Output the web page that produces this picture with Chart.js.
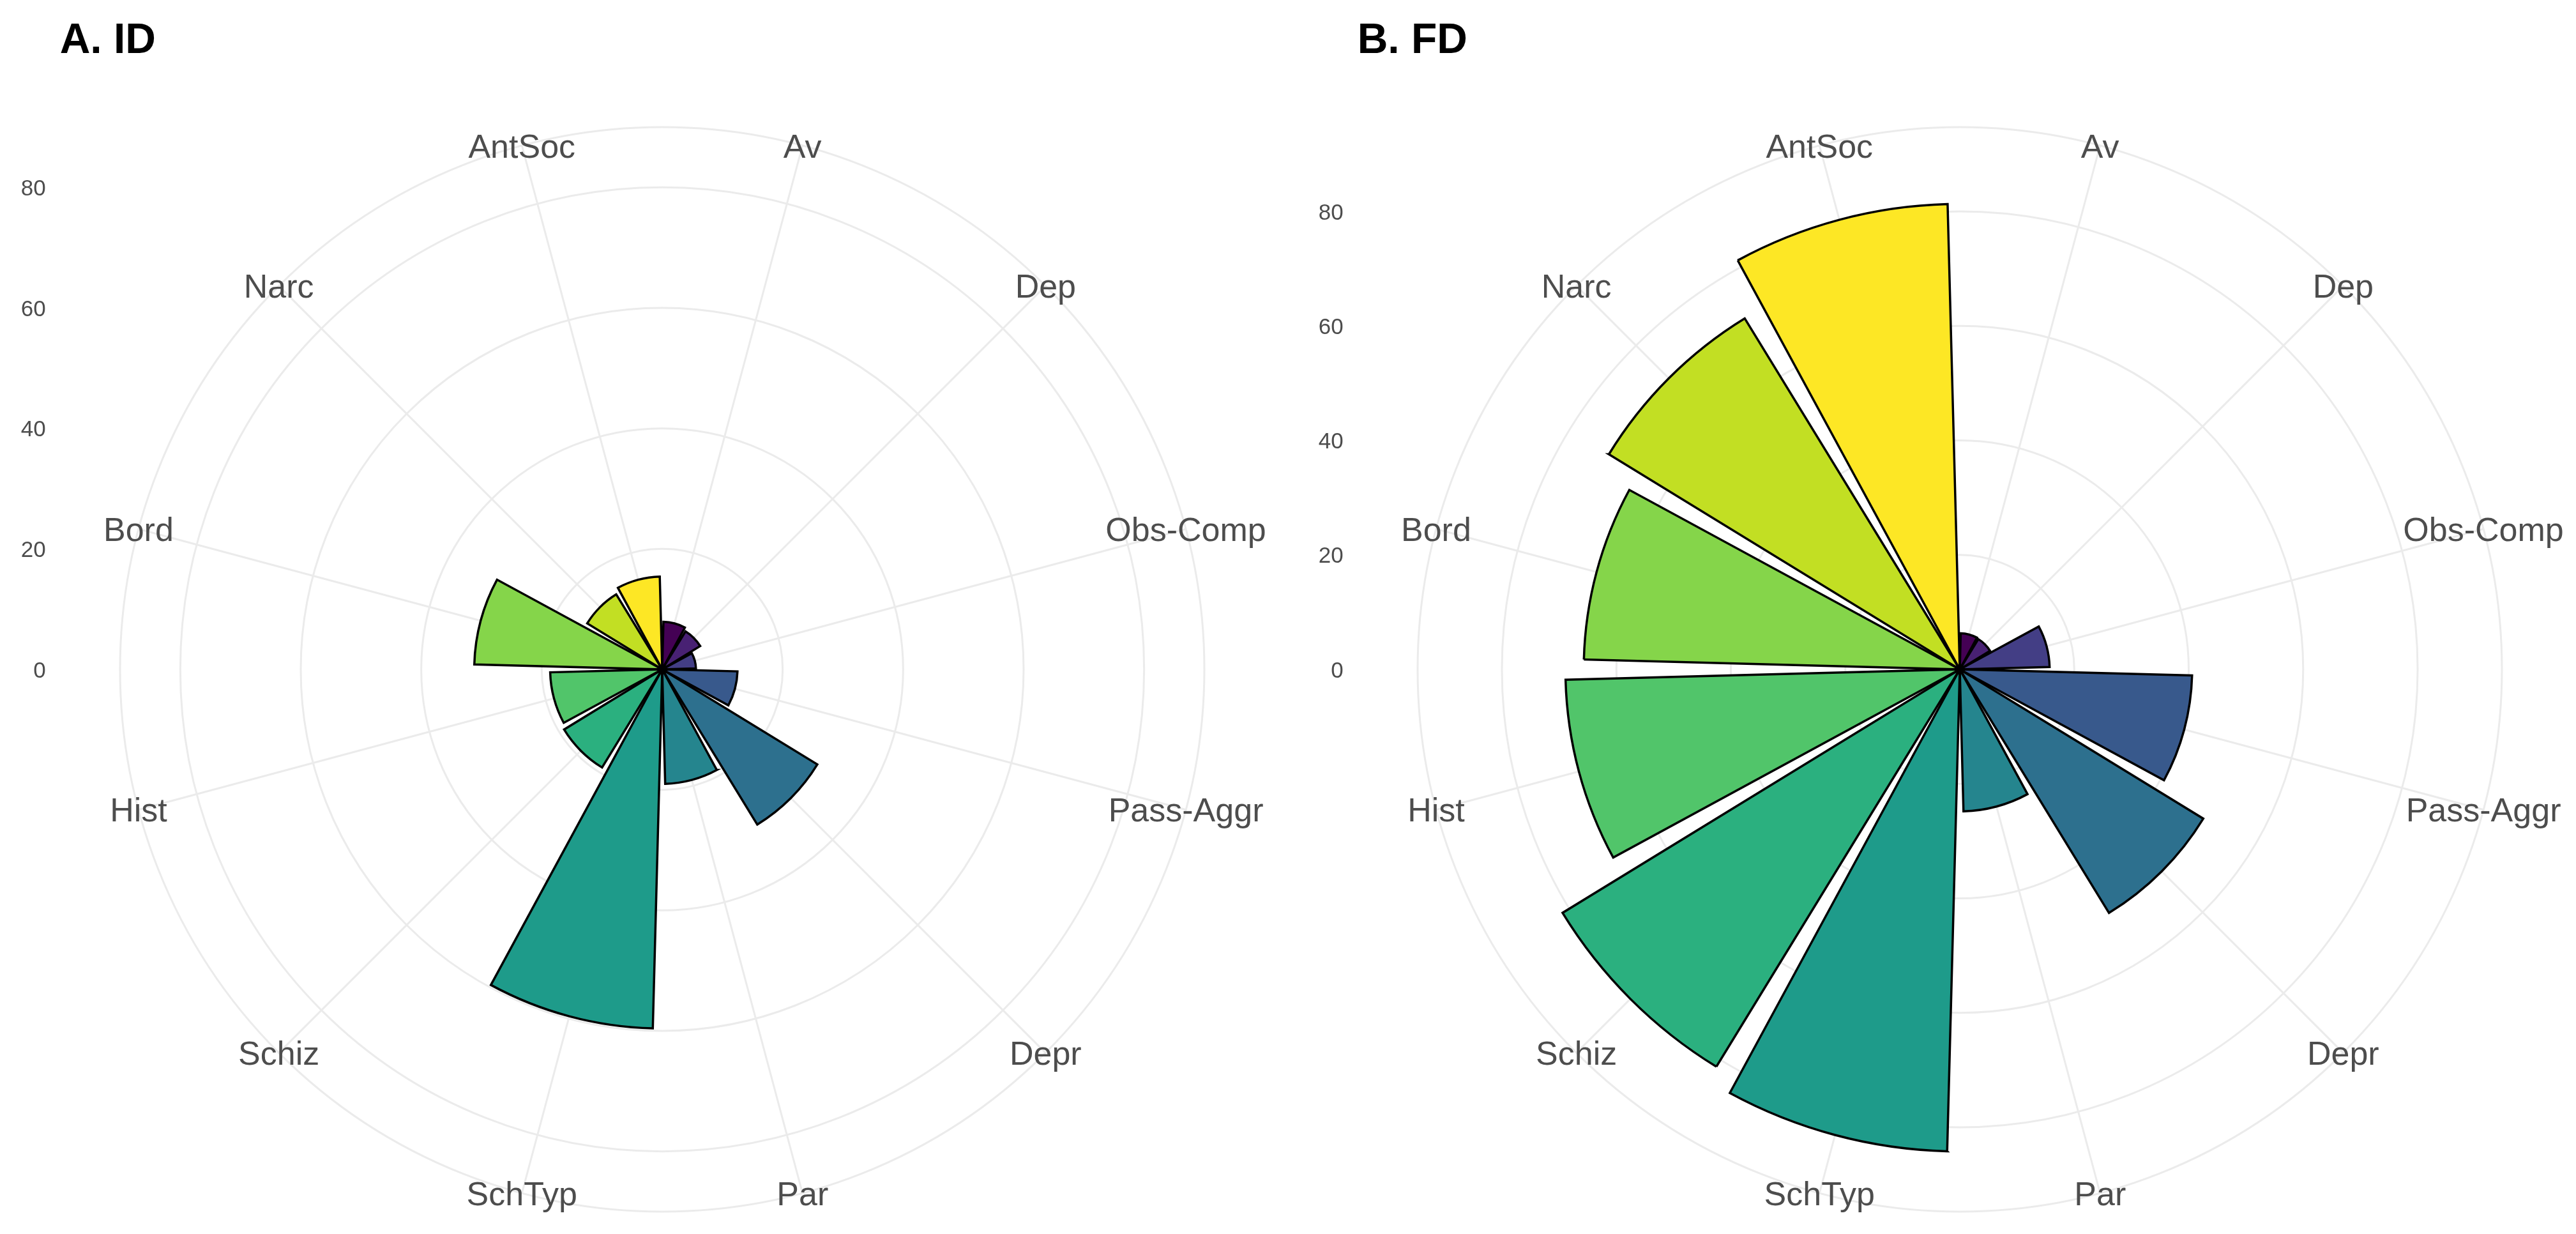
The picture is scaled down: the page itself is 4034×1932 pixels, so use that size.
<!DOCTYPE html>
<html>
<head>
<meta charset="utf-8">
<title>ID / FD</title>
<script src="https://cdn.jsdelivr.net/npm/chart.js@4.4.1/dist/chart.umd.min.js"></script>
<style>
  html, body { margin: 0; padding: 0; background: #fff; overflow: hidden; }
  #wrap { display: flex; width: 4034px; height: 1932px; }
  canvas { display: block; }
</style>
</head>
<body>
<div id="wrap">
  <canvas id="chartA" width="2017" height="1932"></canvas>
  <canvas id="chartB" width="2017" height="1932"></canvas>
</div>
<script>
// categories, clockwise from the top
const categories = ['Av', 'Dep', 'Obs-Comp', 'Pass-Aggr', 'Depr', 'Par', 'SchTyp', 'Schiz', 'Hist', 'Bord', 'Narc', 'AntSoc'];

// values
const idValues = [7.9, 7.4, 5.6, 12.5, 30.2, 19.0, 59.6, 19.1, 18.6, 31.2, 14.6, 15.4];
const fdValues = [6.3, 6.2, 15.7, 40.6, 49.9, 24.8, 84.2, 81.4, 68.9, 65.7, 71.9, 81.3];

// radial axis
const radialTicks = [0, 20, 40, 60, 80];
const idLimit = 80;
const fdLimit = Math.max(...fdValues);

// viridis, 12 steps
const viridis = ['#440154', '#482173', '#433E85', '#38598C', '#2D708E', '#25858E',
                 '#1E9B8A', '#2BB07F', '#51C56A', '#85D54A', '#C2DF23', '#FDE725'];

const FONT = '"Liberation Sans", Arial, Helvetica, sans-serif';
const GRID = '#EBEBEB';

// text layer: panel title, category labels on the outer ring, r axis on the left
const panelText = {
  id: 'panelText',
  afterDraw(chart, args, opts) {
    const s = chart.scales.r;
    const ctx = chart.ctx;
    const panelLeft = s.xCenter - s.drawingArea / 0.9;
    ctx.save();

    ctx.fillStyle = '#000';
    ctx.font = 'bold 66px ' + FONT;
    ctx.textAlign = 'left';
    ctx.textBaseline = 'alphabetic';
    ctx.fillText(opts.title, panelLeft, 83);

    ctx.fillStyle = '#4D4D4D';
    ctx.font = '52px ' + FONT;
    ctx.textAlign = 'center';
    chart.data.labels.forEach((lab, i) => {
      if (!lab) return;
      const p = s.getPointPosition(i, s.drawingArea);
      ctx.fillText(lab, p.x, p.y + 52 * 0.716 / 2);
    });

    ctx.font = '35px ' + FONT;
    ctx.textAlign = 'right';
    radialTicks.forEach(v => {
      const y = s.yCenter - s.getDistanceFromCenterForValue(v);
      ctx.fillText(String(v), panelLeft - 22, y + 35 * 0.716 / 2);
    });
    ctx.restore();
  }
};

// each category gets a 27 degree bar and a 3 degree gap (ggplot width 0.9)
function makeChart(id, title, values, limit, pad) {
  return new Chart(document.getElementById(id), {
    type: 'polarArea',
    data: {
      labels: categories.flatMap(c => ['', c]),
      datasets: [{
        data: values.flatMap(v => [0, v]),
        angle: ctx => ctx.dataIndex === 0 ? 1.5 : (ctx.dataIndex % 2 ? 27 : 3),
        backgroundColor: ctx => ctx.dataIndex % 2 ? viridis[(ctx.dataIndex - 1) / 2] : 'rgba(0,0,0,0)',
        borderColor: '#000',
        borderWidth: ctx => ctx.dataIndex % 2 ? 3.5 : 0,
        borderJoinStyle: 'miter'
      }]
    },
    options: {
      responsive: false,
      devicePixelRatio: 1,
      animation: false,
      events: [],
      layout: { padding: pad },
      plugins: {
        legend: { display: false },
        tooltip: { enabled: false },
        panelText: { title: title }
      },
      scales: {
        r: {
          min: 0,
          max: limit * 1.125,
          startAngle: 0,
          ticks: { display: false },
          afterBuildTicks: scale => {
            scale.ticks = radialTicks.concat([scale.max]).map(v => ({ value: v }));
          },
          grid: { circular: true, color: GRID, lineWidth: 3 },
          angleLines: {
            display: true,
            color: GRID,
            lineWidth: ctx => ctx.index % 2 ? 3 : 0
          },
          pointLabels: { display: false }
        }
      }
    },
    plugins: [panelText]
  });
}

makeChart('chartA', 'A. ID', idValues, idLimit, { left: 188, right: 131, top: 199, bottom: 35 });
makeChart('chartB', 'B. FD', fdValues, fdLimit, { left: 203, right: 116, top: 199, bottom: 35 });
</script>
</body>
</html>
